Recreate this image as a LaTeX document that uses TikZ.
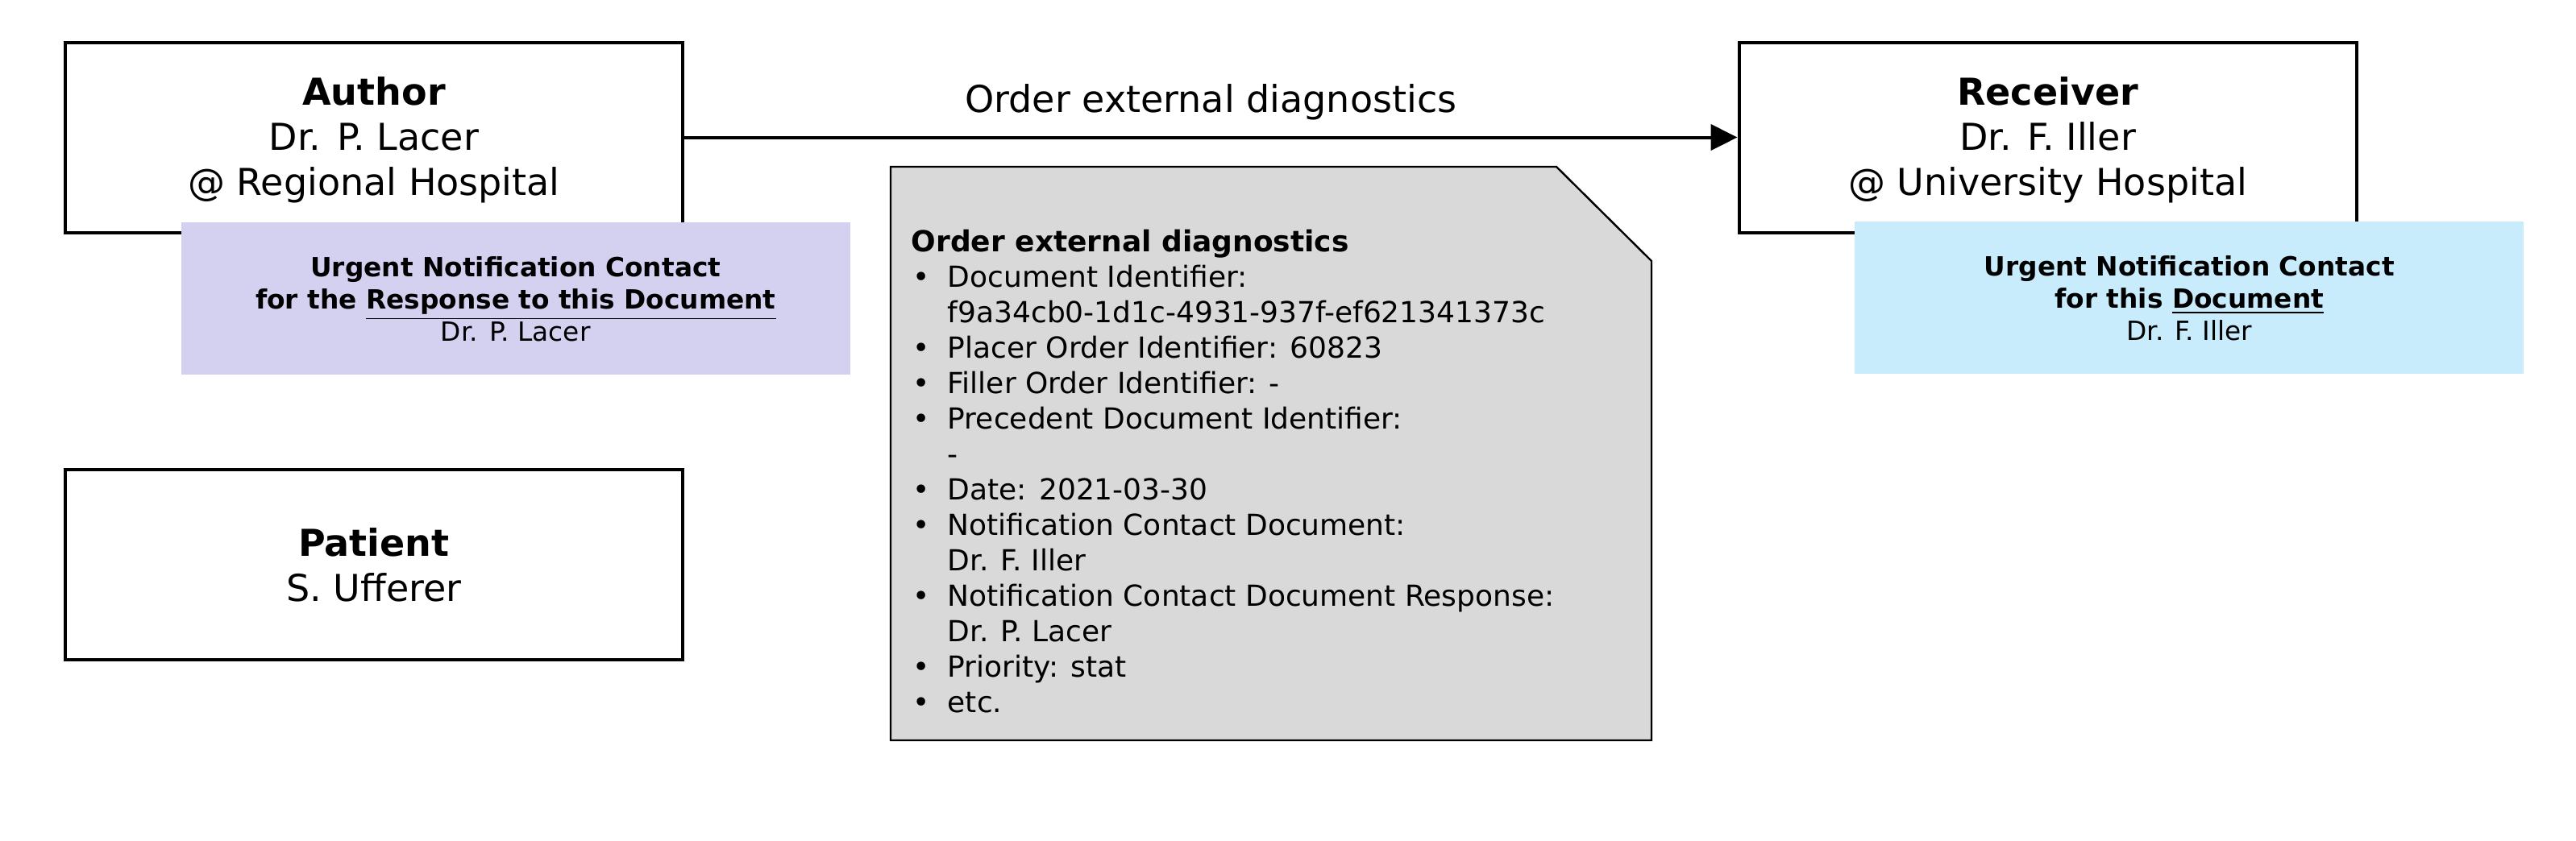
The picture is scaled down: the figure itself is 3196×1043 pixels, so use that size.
\documentclass[tikz,border=0pt]{standalone}
\usepackage{fontspec}
\setmainfont{DejaVu Sans}
\usetikzlibrary{positioning, arrows.meta}
\definecolor{notePurple}{HTML}{D4D0EF}
\definecolor{noteBlue}{HTML}{C8ECFC}
\definecolor{docGray}{HTML}{D9D9D9}

\tikzset{
  party/.style={rectangle, draw, line width=1pt, fill=white, minimum width=191.5pt, minimum height=59pt, align=center, inner sep=0pt, font=\fontsize{11.5}{14}\selectfont},
  note/.style={rectangle, minimum width=207.5pt, minimum height=47.25pt, align=center, inner sep=0pt, font=\fontsize{8.2}{10}\selectfont},
  flow/.style={-{Triangle[length=8.25pt, width=8pt]}, line width=1pt},
  docshape/.style={draw, line width=0.6pt, fill=docGray},
}

\newcommand{\partyhead}[1]{\rule{0pt}{10.4pt}\textbf{#1}}
\newcommand{\docitem}[1]{\hspace*{0.5pt}\makebox[10.75pt][l]{\textbullet}#1}
\newcommand{\docwrap}[1]{\hspace*{11.25pt}#1}

\begin{document}
\begin{tikzpicture}[x=0.25pt, y=-0.25pt]
\useasboundingbox (0,0) rectangle (3196,1043);

% parties
\node[party] (author) at (464,170.5) {\partyhead{Author}\\Dr. P. Lacer\\@ Regional Hospital};
\node[party] (receiver) at (2540.5,170.5) {\partyhead{Receiver}\\Dr. F. Iller\\@ University Hospital};
\node[party] (patient) at (464,701) {\textbf{Patient}\\S. Ufferer};

% message
\draw[flow] (author) -- (receiver) node[midway, above=4.75pt, inner sep=0pt, font=\fontsize{11.5}{14}\selectfont] (message) {Order external diagnostics};

% contacts
\node[note, fill=notePurple, below right=-3.75pt and 36.25pt of author.south west] (responseContact) {\textbf{Urgent Notification Contact}\\\textbf{for the \underline{Response to this Document}}\\Dr. P. Lacer};
\node[note, fill=noteBlue, below right=-4pt and 36.25pt of receiver.south west] (documentContact) {\textbf{Urgent Notification Contact}\\\textbf{for this \underline{Document}}\\Dr. F. Iller};

% document
\draw[docshape] (1105,207) -- (1931,207) -- (2049,324) -- (2049,919) -- (1105,919) -- cycle;
\node[anchor=north west, align=left, inner sep=0pt, font=\fontsize{9}{11}\selectfont] (orderText) at (1130,284.6) {\textbf{Order external diagnostics}\\
\docitem{Document Identifier:}\\
\docwrap{f9a34cb0-1d1c-4931-937f-ef621341373c}\\
\docitem{Placer Order Identifier: 60823}\\
\docitem{Filler Order Identifier: -}\\
\docitem{Precedent Document Identifier:}\\
\docwrap{-}\\
\docitem{Date: 2021-03-30}\\
\docitem{Notification Contact Document:}\\
\docwrap{Dr. F. Iller}\\
\docitem{Notification Contact Document Response:}\\
\docwrap{Dr. P. Lacer}\\
\docitem{Priority: stat}\\
\docitem{etc.}};
\end{tikzpicture}
\end{document}
